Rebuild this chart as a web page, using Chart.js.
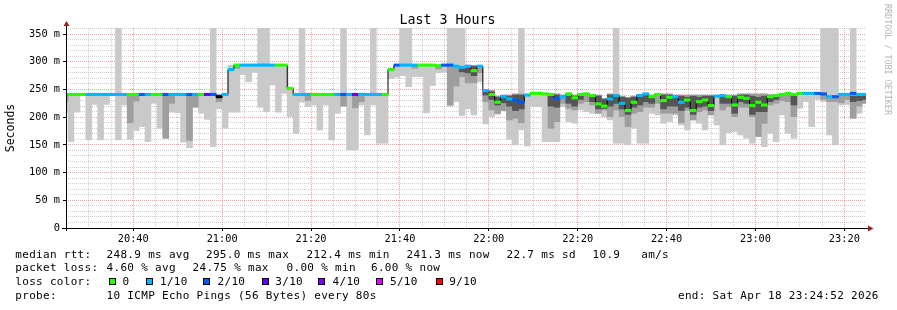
<!DOCTYPE html>
<html>
<head>
<meta charset="utf-8">
<script src="https://cdn.jsdelivr.net/npm/chart.js"></script>
<style>
  html, body { margin: 0; padding: 0; background: #fff; }
  #wrap { position: relative; width: 897px; height: 310px; overflow: hidden; font-family: 'DejaVu Sans Mono', monospace; color: #000; }
  #wrap canvas { position: absolute; left: 0; top: 0; }
  .txt { position: absolute; white-space: pre; font-size: 11px; letter-spacing: 0.3px; line-height: 14px; }
  #title { position: absolute; left: 0; width: 895px; top: 11px; text-align: center; font-size: 13.3px; line-height: 18px; white-space: pre; }
  #side { position: absolute; left: 883px; top: 4px; writing-mode: vertical-rl; font-size: 8.4px; line-height: 10px; color: #b4b4b4; white-space: pre; }
  .sw { position: absolute; width: 5px; height: 5px; border: 1px solid #000; }
</style>
</head>
<body>
<div id="wrap">
  <canvas id="chart" width="897" height="310"></canvas>
  <div id="title">Last 3 Hours</div>
  <div id="side">RRDTOOL / TOBI OETIKER</div>

  <div class="txt" style="left:15.3px;top:247.5px">median rtt:</div>
  <div class="txt" style="left:106.6px;top:247.5px">248.9 ms avg</div>
  <div class="txt" style="left:206px;top:247.5px">295.0 ms max</div>
  <div class="txt" style="left:306.6px;top:247.5px">212.4 ms min</div>
  <div class="txt" style="left:406.6px;top:247.5px">241.3 ms now</div>
  <div class="txt" style="left:506.6px;top:247.5px">22.7 ms sd</div>
  <div class="txt" style="left:592.6px;top:247.5px">10.9</div>
  <div class="txt" style="left:641.3px;top:247.5px">am/s</div>

  <div class="txt" style="left:15.3px;top:261.3px">packet loss:</div>
  <div class="txt" style="left:106.6px;top:261.3px">4.60 % avg</div>
  <div class="txt" style="left:192.6px;top:261.3px">24.75 % max</div>
  <div class="txt" style="left:286.6px;top:261.3px">0.00 % min</div>
  <div class="txt" style="left:371px;top:261.3px">6.00 % now</div>

  <div class="txt" style="left:15.3px;top:275px">loss color:</div>
  <div id="lossLegend"></div>

  <div class="txt" style="left:15.3px;top:289.3px">probe:</div>
  <div class="txt" style="left:106.6px;top:289.3px">10 ICMP Echo Pings (56 Bytes) every 80s</div>
  <div class="txt" style="left:678px;top:289.3px">end: Sat Apr 18 23:24:52 2026</div>
</div>

<script>
    // axe temporel (heure locale) et pas d'échantillonnage
    const plotStart = '20:24:52';
    const plotEnd = '23:24:52';
    const sampleStart = '20:23:59';   // début du premier pas (partiellement visible)
    const stepSeconds = 80;

    const xTickLabels = ['20:40', '21:00', '21:20', '21:40', '22:00', '22:20', '22:40', '23:00', '23:20'];
    const yTickLabels = ['0', '50 m', '100 m', '150 m', '200 m', '250 m', '300 m', '350 m'];

    // couleurs de perte (dixièmes)
    const lossSteps = [0, 1, 2, 3, 4, 5, 9];
    const lossLabels = ['0', '1/10', '2/10', '3/10', '4/10', '5/10', '9/10'];
    const lossColors = ['#26ff00', '#00b8ff', '#0059ff', '#5e00ff', '#7e00ff', '#dd00ff', '#ff0000'];

    // médiane (ms) par pas de 80 s
    const median = [
        241, 241, 241, 241, 241, 241, 241, 241, 241, 241,
        241, 241, 241, 241, 241, 241, 241, 241, 241, 241,
        241, 241, 241, 241, 241, 241, 237, 241, 286, 294,
        294, 294, 294, 294, 294, 294, 294, 294, 252, 241,
        241, 241, 241, 241, 241, 241, 241, 241, 241, 241,
        241, 241, 241, 241, 241, 286, 294, 294, 294, 294,
        294, 294, 294, 293, 294, 294, 292, 290, 292, 284,
        292, 248, 241, 227, 237, 233, 231, 227, 240, 243,
        243, 242, 241, 234, 237, 242, 235, 241, 242, 239,
        224, 220, 233, 239, 225, 212, 227, 239, 242, 237,
        241, 230, 236, 237, 227, 231, 212, 228, 231, 221,
        238, 239, 237, 222, 236, 234, 221, 227, 222, 237,
        239, 241, 243, 241, 243, 243, 243, 243, 242, 237,
        237, 241, 241, 243, 241, 241
    ];

    // perte en dixièmes (null = pas de couleur, trait noir)
    const lossTenths = [
        1, 0, 0, 0, 1, 1, 1, 1, 1, 1,
        1, 0, 0, 2, 1, 0, 0, 2, 1, 1,
        1, 2, 1, 0, 3, 2, null, 1, 1, 0,
        1, 1, 1, 1, 1, 1, 0, 0, 0, 1,
        1, 1, 0, 0, 0, 0, 1, 2, 1, 3,
        1, 1, 1, 1, 0, 0, 2, 1, 1, 1,
        0, 0, 0, 0, 2, 2, 1, 1, 1, 0,
        1, 1, 0, 0, 1, 1, 2, 2, 1, 0,
        0, 0, 0, 2, 1, 0, 0, 0, 0, 0,
        0, 0, 1, 1, 1, 0, 0, 1, 1, 0,
        0, 0, 0, 1, 1, 0, 0, 0, 0, 0,
        1, 1, 0, 0, 0, 0, 0, 0, 0, 0,
        0, 0, 0, 0, 0, 1, 1, 2, 2, 1,
        2, 1, 1, 2, 1, 1
    ];

    // fumée : ping le plus rapide / le plus lent
    const minRtt = [
        209, 156, 209, 239, 159, 223, 159, 223, 239, 159,
        222, 160, 176, 183, 156, 225, 180, 162, 209, 208,
        155, 145, 218, 207, 196, 147, 215, 180, 209, 209,
        277, 264, 281, 218, 210, 258, 209, 243, 201, 171,
        227, 219, 222, 177, 222, 159, 207, 220, 141, 141,
        222, 168, 222, 153, 153, 270, 272, 275, 255, 273,
        273, 208, 257, 280, 281, 220, 228, 203, 215, 204,
        264, 188, 201, 205, 212, 160, 150, 177, 148, 219,
        219, 156, 156, 156, 219, 192, 189, 213, 210, 207,
        207, 201, 195, 153, 153, 150, 180, 153, 153, 207,
        204, 189, 192, 204, 186, 177, 195, 189, 177, 204,
        186, 150, 172, 174, 168, 162, 153, 165, 147, 171,
        156, 204, 171, 162, 216, 228, 183, 232, 228, 168,
        150, 222, 223, 198, 207, 225
    ];
    const maxRtt = [
        241, 241, 241, 241, 241, 241, 241, 241, 241, 361,
        241, 241, 241, 241, 241, 241, 241, 241, 241, 241,
        241, 241, 241, 241, 241, 361, 241, 241, 294, 294,
        294, 294, 294, 361, 361, 294, 294, 294, 252, 241,
        361, 241, 241, 241, 241, 241, 241, 361, 241, 241,
        241, 241, 361, 241, 241, 286, 294, 361, 361, 294,
        294, 294, 294, 293, 294, 361, 361, 361, 292, 293,
        292, 248, 248, 238, 240, 240, 242, 361, 240, 243,
        243, 242, 241, 242, 240, 242, 240, 241, 242, 240,
        240, 234, 242, 361, 238, 236, 238, 240, 242, 240,
        241, 242, 242, 240, 240, 240, 240, 240, 240, 240,
        238, 240, 240, 240, 242, 242, 242, 242, 242, 240,
        241, 242, 243, 241, 243, 243, 243, 243, 361, 361,
        361, 241, 241, 361, 241, 241
    ];

    // pings intermédiaires (gris moyen) et centraux (gris foncé)
    const midBand = [
        [228, 241], null, null, null, null, null, null, null, null, null,
        null, [190, 241], [229, 241], null, null, null, null, [162, 241], [225, 241], null,
        null, [158, 241], [218, 241], null, null, null, [228, 241], null, null, [288, 294],
        null, null, null, null, null, null, null, null, null, null,
        null, [230, 241], null, null, null, null, null, [220, 241], null, [217, 241],
        [228, 241], null, null, null, null, null, null, null, null, [288, 294],
        null, null, null, [287, 293], null, [222, 292], [256, 292], [273, 290], [262, 292], [262, 293],
        [280, 292], [228, 245], [213, 248], [207, 238], [212, 240], [195, 240], [198, 242], [190, 242], null, null,
        null, null, [180, 240], [192, 242], [225, 240], [216, 240], [213, 240], [225, 240], [228, 240], [222, 240],
        [207, 240], [213, 234], [201, 242], [213, 240], [201, 238], [183, 236], [207, 238], [210, 240], [218, 242], [218, 240],
        [225, 241], [207, 242], [207, 242], [207, 240], [190, 240], [213, 240], [195, 240], [210, 240], [213, 240], [204, 240],
        null, [213, 240], [219, 240], [201, 240], [218, 242], [218, 242], [201, 242], [165, 242], [189, 242], [222, 240],
        [225, 241], [230, 242], [228, 242], [201, 240], null, null, null, null, [232, 240], [228, 238],
        [228, 238], [226, 240], [232, 240], [198, 240], [220, 240], [225, 240]
    ];
    const darkBand = [
        null, null, null, null, null, null, null, null, null, null,
        null, null, null, null, null, null, null, null, null, null,
        null, null, null, null, null, null, null, null, null, null,
        null, null, null, null, null, null, null, null, null, null,
        null, null, null, null, null, null, null, null, null, null,
        null, null, null, null, null, null, null, null, null, null,
        null, null, null, null, null, null, null, [282, 290], [280, 292], [275, 292],
        null, [240, 246], [232, 246], [222, 236], [226, 238], [220, 238], [212, 240], [215, 240], null, null,
        null, null, [220, 240], [218, 240], null, [225, 238], [220, 238], [232, 240], null, [228, 240],
        [215, 238], [216, 232], [220, 240], [225, 240], [215, 236], [205, 234], [218, 236], [222, 240], [228, 240], [225, 238],
        null, [215, 240], [220, 240], [220, 238], [212, 238], [218, 236], [205, 238], [218, 236], [220, 238], [212, 238],
        null, [225, 240], [225, 238], [207, 238], [228, 240], [225, 240], [205, 238], [210, 236], [210, 238], [228, 240],
        [232, 241], null, null, [222, 240], null, null, null, null, null, null,
        null, null, null, [228, 238], [230, 240], [232, 240]
    ];

    // STYLE
    const FONT = 'DejaVu Sans Mono';
    const GRID_MINOR = 'rgba(160,160,160,0.5)';
    const GRID_MAJOR = 'rgba(235,100,100,0.6)';
    const ARROW = '#9b2222';
    const BAND_HALF = 2.2;   // demi-épaisseur du trait médian (ms)

    const toMin = s => {
        const [h, m, sec = 0] = s.split(':').map(Number);
        return h * 60 + m + sec / 60;
    };

    const X_MIN = toMin(plotStart);
    const X_MAX = toMin(plotEnd);
    const t0 = toMin(sampleStart);
    const stepMin = stepSeconds / 60;
    const xs = median.map((_, i) => t0 + stepMin * (i + 0.5));

    const xMajor = new Map(xTickLabels.map(l => [toMin(l), l]));
    const yMajor = new Map(yTickLabels.map(l => [parseFloat(l), l]));

    const lossColor = l => l === null ? '#000' : lossColors[lossSteps.indexOf(l)];

    // légende des couleurs de perte
    const swatchX = [108.7, 146, 203.3, 261.7, 318.3, 376, 436];
    const swatchLabelX = [122.6, 160, 217.6, 275.3, 332.6, 390, 449.3];
    const legendBox = document.getElementById('lossLegend');
    lossLabels.forEach((label, i) => {
        const sw = document.createElement('span');
        sw.className = 'sw';
        sw.style.left = swatchX[i] + 'px';
        sw.style.top = '278.3px';
        sw.style.background = lossColors[i];
        legendBox.appendChild(sw);
        const t = document.createElement('div');
        t.className = 'txt';
        t.style.left = swatchLabelX[i] + 'px';
        t.style.top = '275px';
        t.textContent = label;
        legendBox.appendChild(t);
    });

    const smoke = (band, color, order) => ({
        type: 'bar',
        data: xs.map((x, i) => ({ x, y: band[i] })),
        backgroundColor: color,
        borderWidth: 0,
        grouped: false,
        barPercentage: 1,
        categoryPercentage: 1,
        order
    });

    // flèches et traits des axes
    const axisArrows = {
        id: 'axisArrows',
        afterDatasetsDraw(chart) {
            const { ctx, chartArea: a } = chart;
            ctx.save();
            ctx.strokeStyle = '#000';
            ctx.lineWidth = 1;
            ctx.beginPath();
            ctx.moveTo(a.left - 4, a.bottom + 0.5);
            ctx.lineTo(a.right + 3, a.bottom + 0.5);
            ctx.moveTo(a.left + 0.5, a.bottom + 3);
            ctx.lineTo(a.left + 0.5, a.top - 3);
            ctx.stroke();
            ctx.fillStyle = ARROW;
            ctx.beginPath();
            ctx.moveTo(a.right + 2, a.bottom - 2.5);
            ctx.lineTo(a.right + 7.5, a.bottom + 0.5);
            ctx.lineTo(a.right + 2, a.bottom + 3.5);
            ctx.closePath();
            ctx.fill();
            ctx.beginPath();
            ctx.moveTo(a.left - 2.5, a.top - 2);
            ctx.lineTo(a.left + 0.5, a.top - 7);
            ctx.lineTo(a.left + 3.5, a.top - 2);
            ctx.closePath();
            ctx.fill();
            ctx.restore();
        }
    };

    new Chart(document.getElementById('chart'), {
        type: 'bar',
        data: {
            datasets: [
                smoke(xs.map((_, i) => [minRtt[i], maxRtt[i]]), '#c9c9c9', 5),
                smoke(midBand, '#9e9e9e', 4),
                smoke(darkBand, '#555555', 3),
                {
                    type: 'line',
                    data: xs.map((x, i) => ({ x, y: median[i] })),
                    stepped: 'middle',
                    borderColor: '#000',
                    borderWidth: 1,
                    pointRadius: 0,
                    order: 2
                },
                {
                    type: 'bar',
                    data: xs.map((x, i) => ({ x, y: [median[i] - BAND_HALF, median[i] + BAND_HALF] })),
                    backgroundColor: lossTenths.map(lossColor),
                    borderWidth: 0,
                    grouped: false,
                    barPercentage: 1,
                    categoryPercentage: 1,
                    order: 1
                }
            ]
        },
        options: {
            responsive: false,
            animation: false,
            devicePixelRatio: 1,
            layout: { padding: { top: 28, right: 31, left: 0, bottom: 0 } },
            plugins: {
                legend: { display: false },
                tooltip: { enabled: false },
                title: { display: false }
            },
            scales: {
                x: {
                    type: 'linear',
                    min: X_MIN,
                    max: X_MAX,
                    offset: false,
                    afterFit: s => { s.height = 82; },
                    afterBuildTicks: s => {
                        const t = [];
                        for (let v = Math.ceil(X_MIN / 5) * 5; v <= X_MAX; v += 5) t.push({ value: v });
                        s.ticks = t;
                    },
                    grid: {
                        offset: false,
                        drawTicks: true,
                        tickLength: 3,
                        lineWidth: 1,
                        color: c => xMajor.has(c.tick.value) ? GRID_MAJOR : GRID_MINOR,
                        tickColor: c => xMajor.has(c.tick.value) ? '#000' : 'rgba(0,0,0,0)'
                    },
                    border: { display: false, dash: [1, 1] },
                    ticks: {
                        autoSkip: false,
                        maxRotation: 0,
                        padding: 2,
                        color: '#000',
                        font: { family: FONT, size: 10.3 },
                        callback: v => xMajor.get(v) || ''
                    }
                },
                y: {
                    min: 0,
                    max: 361,
                    afterFit: s => { s.width = 66; },
                    afterBuildTicks: s => {
                        const t = [];
                        for (let v = 0; v <= 360; v += 10) t.push({ value: v });
                        s.ticks = t;
                    },
                    grid: {
                        drawTicks: true,
                        tickLength: 3,
                        lineWidth: 1,
                        color: c => yMajor.has(c.tick.value) ? GRID_MAJOR : GRID_MINOR,
                        tickColor: c => yMajor.has(c.tick.value) ? '#000' : 'rgba(0,0,0,0)'
                    },
                    border: { display: false, dash: [1, 1] },
                    title: {
                        display: true,
                        text: 'Seconds',
                        color: '#000',
                        font: { family: FONT, size: 11.5 }
                    },
                    ticks: {
                        autoSkip: false,
                        padding: 3,
                        color: '#000',
                        font: { family: FONT, size: 10.3 },
                        callback: v => yMajor.get(v) || ''
                    }
                }
            }
        },
        plugins: [axisArrows]
    });
</script>
</body>
</html>
